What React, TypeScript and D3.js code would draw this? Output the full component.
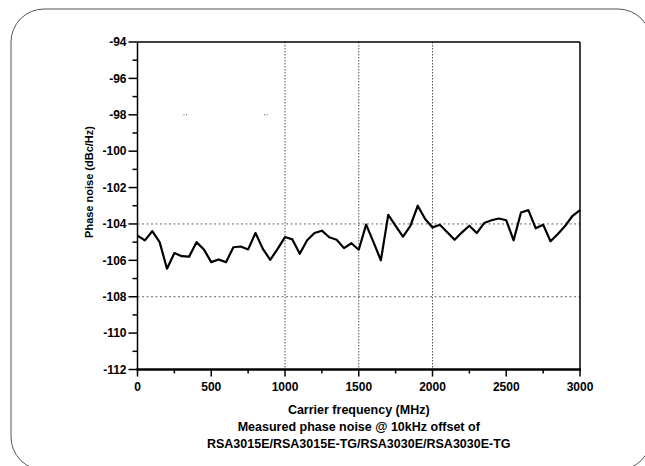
import React from "react";
import * as d3 from "d3";

const freqs = [0, 50, 100, 150, 200, 250, 300, 350, 400, 450, 500, 550, 600, 650, 700, 750, 800, 850, 900, 950,
  1000, 1050, 1100, 1150, 1200, 1250, 1300, 1350, 1400, 1450, 1500, 1550, 1600, 1650, 1700, 1750, 1800, 1850, 1900, 1950,
  2000, 2050, 2100, 2150, 2200, 2250, 2300, 2350, 2400, 2450, 2500, 2550, 2600, 2650, 2700, 2750, 2800, 2850, 2900, 2950, 3000];
const phaseNoise = [-104.64, -104.9, -104.4, -105.0, -106.46, -105.6, -105.77, -105.8, -105.0, -105.4,
  -106.1, -105.95, -106.1, -105.28, -105.24, -105.4, -104.5, -105.37, -105.97, -105.37,
  -104.72, -104.85, -105.64, -104.9, -104.5, -104.37, -104.73, -104.87, -105.33, -105.06,
  -105.42, -104.04, -105.0, -106.0, -103.5, -104.1, -104.7, -104.1, -103.0, -103.73,
  -104.2, -104.04, -104.46, -104.87, -104.46, -104.1, -104.5, -103.95, -103.8, -103.7,
  -103.8, -104.9, -103.37, -103.24, -104.24, -104.04, -104.95, -104.55, -104.1, -103.55, -103.24];
const xMajorTicks = [0, 500, 1000, 1500, 2000, 2500, 3000];
const xMinorTicks = [250, 750, 1250, 1750, 2250, 2750];
const yMajorTicks = [-94, -96, -98, -100, -102, -104, -106, -108, -110, -112];
const yMinorTicks = [-95, -97, -99, -101, -103, -105, -107, -109, -111];
const xGrid = [1000, 1500, 2000];
const yGrid = [-104, -108];
const xTitle = "Carrier frequency (MHz)";
const captionLines = ["Measured phase noise @ 10kHz offset of", "RSA3015E/RSA3015E-TG/RSA3030E/RSA3030E-TG"];
const yTitle = "Phase noise (dBc/Hz)";

const W = 645, H = 466;
const L = 137.5, R = 580, T = 42, B = 369.5;

export default function App() {
  const x = d3.scaleLinear().domain([0, 3000]).range([L, R]);
  const y = d3.scaleLinear().domain([-112, -94]).range([B, T]);
  const line = d3.line<number>().x((_, i) => x(freqs[i])).y((d) => y(d));
  const font = "'Liberation Sans', Arial, sans-serif";
  return (
    <svg width={W} height={H} style={{ position: "absolute", left: 0, top: 0, background: "#fff" }}
      fontFamily={font} fontWeight="bold">
      <rect x={11} y={9} width={640} height={461} rx={33} ry={33} fill="none" stroke="#555" strokeWidth={1} />
      {/* grid */}
      {xGrid.map((v) => (
        <line key={"gx" + v} x1={x(v)} x2={x(v)} y1={T} y2={B} stroke="#555" strokeWidth={1} strokeDasharray="1.5,1.5" />
      ))}
      {yGrid.map((v) => (
        <line key={"gy" + v} x1={L} x2={R} y1={y(v)} y2={y(v)} stroke="#666" strokeWidth={1} strokeDasharray="2,2.5" />
      ))}
      <line x1={L} x2={x(1000)} y1={y(-98)} y2={y(-98)} stroke="#555" strokeWidth={1} strokeDasharray="0,46,1,1.5,1,77,1,1.5,1,1000" />
      {/* frame */}
      <line x1={L} x2={R} y1={T} y2={T} stroke="#000" strokeWidth={1.5} />
      <line x1={R} x2={R} y1={T} y2={B} stroke="#000" strokeWidth={1.5} />
      <line x1={L} x2={L} y1={T} y2={B} stroke="#000" strokeWidth={1.5} />
      <line x1={L - 1} x2={R + 1} y1={B} y2={B} stroke="#000" strokeWidth={2.5} />
      {/* y ticks */}
      {yMajorTicks.map((v) => (
        <g key={"ym" + v}>
          <line x1={L - 9} x2={L} y1={y(v)} y2={y(v)} stroke="#000" strokeWidth={1.5} />
          <text x={L - 11} y={y(v)} dy="0.36em" textAnchor="end" fontSize={12}>{v}</text>
        </g>
      ))}
      {yMinorTicks.map((v) => (
        <line key={"yn" + v} x1={L - 5} x2={L} y1={y(v)} y2={y(v)} stroke="#000" strokeWidth={1.5} />
      ))}
      {/* x ticks */}
      {xMajorTicks.map((v) => (
        <g key={"xm" + v}>
          <line x1={x(v)} x2={x(v)} y1={B} y2={B + 7} stroke="#000" strokeWidth={1.5} />
          <text x={x(v)} y={B + 21} textAnchor="middle" fontSize={12}>{v}</text>
        </g>
      ))}
      {xMinorTicks.map((v) => (
        <line key={"xn" + v} x1={x(v)} x2={x(v)} y1={B} y2={B + 4} stroke="#000" strokeWidth={1.5} />
      ))}
      {/* data */}
      <path d={line(phaseNoise) || ""} fill="none" stroke="#000" strokeWidth={2.2} strokeLinejoin="round" />
      {/* titles */}
      <text x={(L + R) / 2} y={414} textAnchor="middle" fontSize={12.5}>{xTitle}</text>
      {captionLines.map((s, i) => (
        <text key={s} x={(L + R) / 2} y={431 + i * 17} textAnchor="middle" fontSize={12.5}>{s}</text>
      ))}
      <text transform={`translate(93,182) rotate(-90)`} textAnchor="middle" fontSize={11}>{yTitle}</text>
    </svg>
  );
}
